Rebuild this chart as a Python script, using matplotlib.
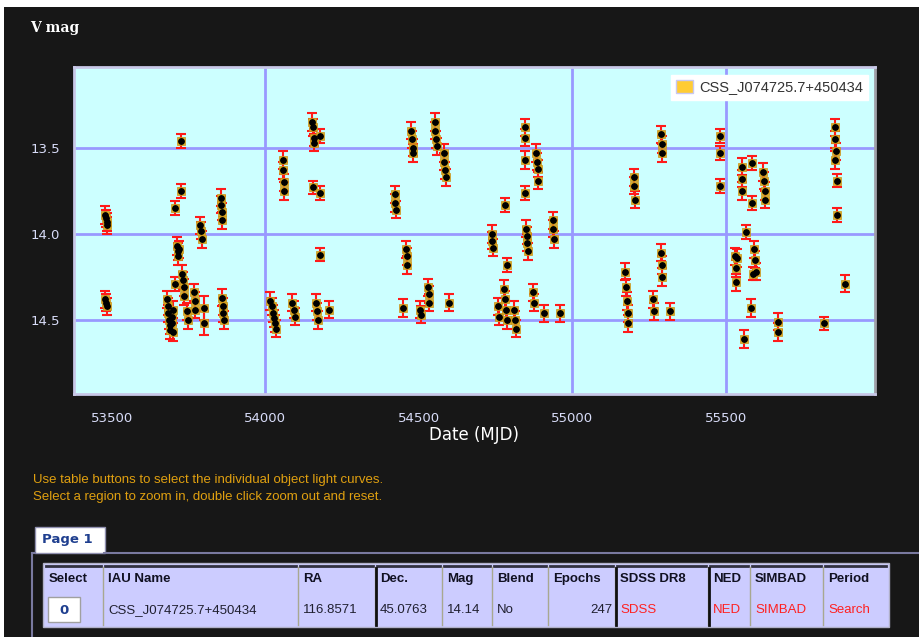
import matplotlib
matplotlib.use('Agg')
import matplotlib.pyplot as plt
from matplotlib.patches import Rectangle, Patch

# ---------------- data ----------------
mjd = [53478, 53480, 53482, 53484, 53478, 53481, 53484,
       53680, 53682, 53684, 53686, 53688, 53690, 53694, 53696, 53698, 53700,
       53706, 53706, 53712, 53714, 53716, 53719, 53725, 53725,
       53729, 53731, 53733, 53735, 53745, 53749, 53767, 53769, 53771,
       53788, 53790, 53792, 53801, 53801, 53854, 53856, 53858, 53860,
       53859, 53861, 53863, 53865,
       54016, 54020, 54024, 54028, 54032, 54036, 54056, 54058, 54060, 54062,
       54088, 54092, 54096, 54153, 54155, 54157, 54159, 54155,
       54166, 54168, 54170, 54177, 54177, 54177, 54206,
       54421, 54423, 54425, 54448, 54459, 54461, 54463,
       54476, 54478, 54480, 54482, 54503, 54507, 54530, 54532, 54534,
       54552, 54554, 54556, 54558, 54581, 54583, 54585, 54587, 54597,
       54738, 54740, 54742, 54758, 54762, 54782, 54778, 54781, 54784, 54787,
       54787, 54810, 54814, 54818, 54847, 54847, 54847, 54847,
       54850, 54852, 54854, 54856, 54872, 54876, 54883, 54885, 54887, 54889,
       54909, 54937, 54939, 54941, 54961,
       55173, 55175, 55179, 55181, 55183, 55201, 55203, 55205, 55263, 55267,
       55290, 55292, 55294, 55290, 55292, 55294, 55319,
       55482, 55482, 55482, 55531, 55533, 55535, 55538, 55553, 55553, 55553,
       55560, 55567, 55582, 55585, 55585, 55590, 55594, 55596, 55598,
       55623, 55625, 55627, 55629, 55672, 55672, 55821,
       55855, 55857, 55859, 55857, 55864, 55864, 55889]
mag = [13.89, 13.91, 13.93, 13.95, 14.38, 14.40, 14.42,
       14.38, 14.42, 14.46, 14.50, 14.53, 14.56, 14.48, 14.52, 14.57, 14.44,
       14.29, 13.85, 14.07, 14.10, 14.13, 14.09, 13.46, 13.75,
       14.23, 14.27, 14.31, 14.36, 14.45, 14.50, 14.34, 14.39, 14.44,
       13.95, 13.98, 14.03, 14.43, 14.52, 13.79, 13.83, 13.87, 13.92,
       14.37, 14.42, 14.46, 14.50,
       14.39, 14.42, 14.46, 14.49, 14.52, 14.55, 13.57, 13.63, 13.70, 13.75,
       14.40, 14.44, 14.48, 13.35, 13.38, 13.44, 13.47, 13.73,
       14.40, 14.45, 14.50, 13.43, 13.76, 14.12, 14.44,
       13.77, 13.82, 13.86, 14.43, 14.09, 14.13, 14.18,
       13.40, 13.45, 13.50, 13.53, 14.44, 14.47, 14.31, 14.35, 14.40,
       13.35, 13.40, 13.45, 13.49, 13.53, 13.58, 13.63, 13.67, 14.40,
       14.00, 14.04, 14.08, 14.42, 14.48, 13.83, 14.32, 14.38, 14.44, 14.50,
       14.18, 14.44, 14.50, 14.55, 13.38, 13.44, 13.57, 13.76,
       13.97, 14.01, 14.05, 14.10, 14.34, 14.40, 13.53, 13.58, 13.62, 13.69,
       14.46, 13.92, 13.97, 14.03, 14.46,
       14.22, 14.31, 14.39, 14.46, 14.52, 13.67, 13.72, 13.80, 14.38, 14.45,
       13.42, 13.48, 13.53, 14.11, 14.18, 14.25, 14.45,
       13.43, 13.53, 13.72, 14.13, 14.20, 14.28, 14.14, 13.61, 13.68, 13.75,
       14.61, 13.99, 14.43, 13.59, 13.82, 14.23, 14.09, 14.15, 14.22,
       13.64, 13.69, 13.75, 13.80, 14.51, 14.57, 14.52,
       13.38, 13.45, 13.52, 13.57, 13.69, 13.89, 14.29]
err = [0.05, 0.05, 0.05, 0.05, 0.05, 0.05, 0.05,
       0.05, 0.05, 0.05, 0.05, 0.05, 0.05, 0.05, 0.05, 0.05, 0.05,
       0.04, 0.04, 0.05, 0.05, 0.05, 0.05, 0.04, 0.04,
       0.05, 0.05, 0.05, 0.05, 0.05, 0.05, 0.05, 0.05, 0.05,
       0.05, 0.05, 0.05, 0.07, 0.07, 0.05, 0.05, 0.05, 0.05,
       0.05, 0.05, 0.05, 0.05,
       0.05, 0.05, 0.05, 0.05, 0.05, 0.05, 0.05, 0.05, 0.05, 0.05,
       0.05, 0.05, 0.05, 0.05, 0.05, 0.05, 0.05, 0.04,
       0.05, 0.05, 0.05, 0.04, 0.04, 0.04, 0.05,
       0.05, 0.05, 0.05, 0.05, 0.05, 0.05, 0.05,
       0.05, 0.05, 0.05, 0.05, 0.05, 0.05, 0.05, 0.05, 0.05,
       0.05, 0.05, 0.05, 0.05, 0.05, 0.05, 0.05, 0.05, 0.05,
       0.05, 0.05, 0.05, 0.05, 0.05, 0.04, 0.05, 0.05, 0.05, 0.05,
       0.04, 0.05, 0.05, 0.05, 0.05, 0.05, 0.05, 0.04,
       0.05, 0.05, 0.05, 0.05, 0.05, 0.05, 0.05, 0.05, 0.05, 0.05,
       0.05, 0.05, 0.05, 0.05, 0.05,
       0.05, 0.05, 0.05, 0.05, 0.05, 0.05, 0.05, 0.05, 0.05, 0.05,
       0.05, 0.05, 0.05, 0.05, 0.05, 0.05, 0.05,
       0.04, 0.04, 0.04, 0.05, 0.05, 0.05, 0.05, 0.05, 0.05, 0.05,
       0.05, 0.04, 0.05, 0.04, 0.04, 0.04, 0.05, 0.05, 0.05,
       0.05, 0.05, 0.05, 0.05, 0.05, 0.05, 0.04,
       0.05, 0.05, 0.05, 0.05, 0.04, 0.04, 0.05]

x_ticks = [53500, 54000, 54500, 55000, 55500]
x_grid = [54000, 55000, 55500]
y_ticks = [13.5, 14.0, 14.5]
y_tick_labels = ['13.5', '14.0', '14.5']
series_name = 'CSS_J074725.7+450434'

table_cols = ['Select', 'IAU Name', 'RA', 'Dec.', 'Mag', 'Blend', 'Epochs',
              'SDSS DR8', 'NED', 'SIMBAD', 'Period']
table_row = ['0', 'CSS_J074725.7+450434', '116.8571', '45.0763', '14.14', 'No',
             '247', 'SDSS', 'NED', 'SIMBAD', 'Search']

# ---------------- figure ----------------
W, H = 920, 637
BG = '#171717'
fig = plt.figure(figsize=(W / 100, H / 100), dpi=100, facecolor=BG)

# overlay for page decoration (pixel coordinates)
ov = fig.add_axes([0, 0, 1, 1], zorder=0)
ov.set_xlim(0, W)
ov.set_ylim(H, 0)
ov.axis('off')
ov.add_patch(Rectangle((0, 0), W, 7, color='white', lw=0))
ov.add_patch(Rectangle((0, 0), 4, H, color='white', lw=0))

ov.text(30, 28, 'V mag', color='white', fontsize=10, fontweight='bold',
        family='DejaVu Serif', va='center', ha='left')

ov.text(33, 480, 'Use table buttons to select the individual object light curves.',
        color='#E0A010', fontsize=9.5, family='Liberation Sans', va='center')
ov.text(33, 497, 'Select a region to zoom in, double click zoom out and reset.',
        color='#E0A010', fontsize=9.5, family='Liberation Sans', va='center')

# tab + panel
ov.plot([104, W], [553, 553], color='#7A7AA0', lw=1.5)
ov.plot([32, 32], [553, H], color='#7A7AA0', lw=1.5)
ov.plot([32, 35], [553, 553], color='#7A7AA0', lw=1.5)
ov.add_patch(Rectangle((35, 527), 70, 26, facecolor='white', edgecolor='#9090B0', lw=1))
ov.text(42, 540, 'Page 1', color='#1F3F8F', fontsize=9.5, fontweight='bold',
        family='DejaVu Sans', va='center')

# table
col_edges = [44, 103, 298, 375, 442, 492, 548, 615, 708, 750, 823, 888]
ov.add_patch(Rectangle((43, 563), 846, 64, facecolor='#CCCCFF', edgecolor='#B0B0C8', lw=1))
for i, name in enumerate(table_cols):
    x0, x1 = col_edges[i], col_edges[i + 1]
    ov.plot([x0 + 2, x1 - 2], [566, 566], color='#303040', lw=2)
    ov.text(x0 + 5, 579, name, color='#111122', fontsize=9.5, fontweight='bold',
            family='Liberation Sans', va='center')
    if i > 0:
        ov.plot([x0, x0], [567, 625], color='#A8A890', lw=1)
for xb in [376, 616, 709]:
    ov.plot([xb, xb], [568, 625], color='#101010', lw=2)

link_cols = {'SDSS', 'NED', 'SIMBAD', 'Search'}
for i, val in enumerate(table_row):
    x0, x1 = col_edges[i], col_edges[i + 1]
    if i == 0:
        ov.add_patch(Rectangle((48, 597), 32, 25, facecolor='white', edgecolor='#A0A0A0', lw=1))
        ov.text(64, 610, val, color='#1F3F8F', fontsize=9.5, fontweight='bold',
                ha='center', va='center', family='DejaVu Sans')
        continue
    color = '#FF2020' if val in link_cols else '#202030'
    if val == '247':
        ov.text(x1 - 3, 610, val, color=color, fontsize=9.5, ha='right',
                va='center', family='Liberation Sans')
    else:
        ov.text(x0 + 5, 610, val, color=color, fontsize=9.5, ha='left',
                va='center', family='Liberation Sans')

# ---------------- main plot ----------------
ax = fig.add_axes([74 / W, 1 - 394 / H, (875 - 74) / W, (394 - 67) / H], zorder=2)
ax.set_facecolor('#CCFFFF')
ax.set_xlim(53376, 55987)
ax.set_ylim(14.93, 13.03)

for v in x_grid:
    ax.axvline(v, color='#9999FF', lw=2, zorder=1)
for v in y_ticks:
    ax.axhline(v, color='#9999FF', lw=2, zorder=1)

ax.errorbar(mjd, mag, yerr=err, fmt='none', ecolor='#FF1A1A', elinewidth=1.5,
            capsize=3.5, capthick=1.5, zorder=3)
ax.plot(mjd, mag, linestyle='none', marker='s', markersize=5.5,
        markerfacecolor='#E0B020', markeredgecolor='#C89018', markeredgewidth=0.5, zorder=4)
ax.plot(mjd, mag, linestyle='none', marker='o', markersize=3.9,
        markerfacecolor='black', markeredgecolor='black', zorder=5)

ax.set_xticks(x_ticks)
ax.set_xticklabels([str(t) for t in x_ticks])
ax.set_yticks(y_ticks)
ax.set_yticklabels(y_tick_labels)
ax.tick_params(length=0, colors='#D8DCF8', labelsize=9.5)
ax.tick_params(axis='x', pad=13)
ax.tick_params(axis='y', pad=10)
for s in ax.spines.values():
    s.set_color('#C8C8E8')
    s.set_linewidth(2)
ax.spines['right'].set_color('#A0A0A8')

ax.set_xlabel('Date (MJD)', color='white', fontsize=12, labelpad=1)

leg = ax.legend(handles=[Patch(facecolor='#FFCC33', edgecolor='#C8C8F0', label=series_name)],
                loc='upper right', bbox_to_anchor=(0.995, 0.985), frameon=True,
                fancybox=False, framealpha=1, edgecolor='white',
                prop={'family': 'Liberation Sans', 'size': 10.5},
                handlelength=1.2, handleheight=1.0, handletextpad=0.4,
                borderpad=0.35, borderaxespad=0.2)
for t in leg.get_texts():
    t.set_color('#333333')

fig.savefig('out.png', dpi=100, facecolor=BG)
